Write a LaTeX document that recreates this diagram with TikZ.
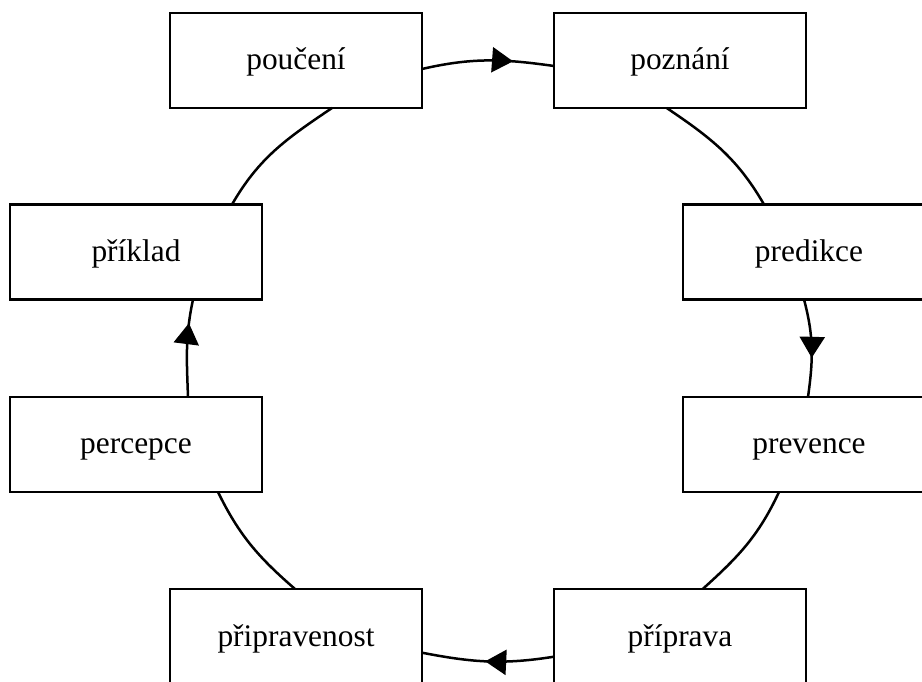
\documentclass[tikz,border=0pt]{standalone}
\usepackage{fontspec}
\setmainfont{Liberation Serif}
\usetikzlibrary{arrows.meta,decorations.markings}

\tikzset{
  box/.style={draw, line width=2.6pt, minimum width=252pt, minimum height=95pt,
    inner sep=0pt, outer sep=0pt, text height=22pt, text depth=3pt,
    font=\fontsize{31.4}{38}\selectfont},
  link/.style={draw, line width=2.5pt},
  midarrow/.style={postaction={decorate}, decoration={markings,
    mark=at position #1 with {\arrow{Triangle[length=21pt,width=25pt]}}}}
}

\begin{document}
\begin{tikzpicture}[x=1pt,y=1pt]
  \useasboundingbox (0,0) rectangle (922,681);
  \clip (0,0) rectangle (922,681);

  % the eight stations of the cycle
  \node[box] (pouceni)      at (296,620.5) {poučení};
  \node[box] (poznani)      at (680,620.5) {poznání};
  \node[box] (predikce)     at (809,429)   {predikce};
  \node[box] (prevence)     at (809,236.5) {prevence};
  \node[box] (priprava)     at (680,44.5)  {příprava};
  \node[box] (pripravenost) at (296,44.5)  {připravenost};
  \node[box] (percepce)     at (136,236.5) {percepce};
  \node[box] (priklad)      at (136,429)   {příklad};

  % arcs around the ring
  \path[link, midarrow=0.69]
    ([yshift=-8.5pt]pouceni.east) to[out=13,in=172] ([yshift=-5.5pt]poznani.west);
  \path[link]
    ([xshift=-13.3pt]poznani.south) to[out=-34,in=120] ([xshift=-45pt]predikce.north);
  \path[link, midarrow=0.6]
    ([xshift=-5pt]predikce.south) to[out=-75,in=82] ([xshift=-1pt]prevence.north);
  \path[link]
    ([xshift=-30pt]prevence.south) to[out=-115,in=42] ([xshift=22.7pt]priprava.north);
  \path[link, midarrow=0.52]
    ([yshift=-20.2pt]priprava.west) to[out=-171,in=-11] ([yshift=-16.2pt]pripravenost.east);
  \path[link]
    ([xshift=-1pt]pripravenost.north) to[out=139,in=-64] ([xshift=82pt]percepce.south);
  \path[link, midarrow=0.755]
    ([xshift=52pt]percepce.north) to[out=92,in=-102] ([xshift=57pt]priklad.south);
  \path[link]
    ([xshift=96pt]priklad.north) to[out=60,in=-146] ([xshift=36pt]pouceni.south);
\end{tikzpicture}
\end{document}
